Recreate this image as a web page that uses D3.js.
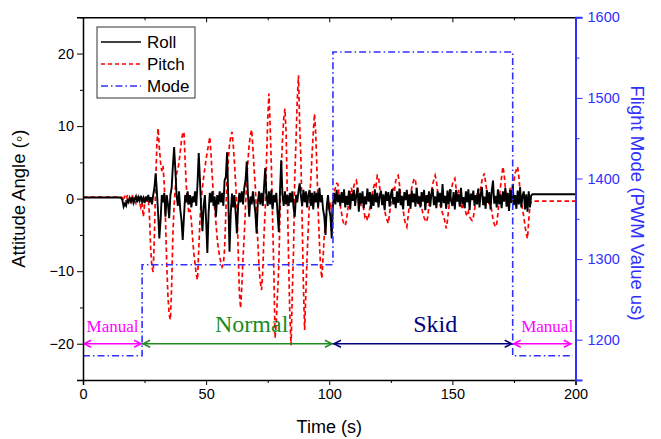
<!DOCTYPE html>
<html>
<head>
<meta charset="utf-8">
<script src="https://cdn.jsdelivr.net/npm/d3@7"></script>
<style>
  body { margin: 0; background: #fff; }
  svg { display: block; }
  .tick text { font-family: "Liberation Sans", Arial, sans-serif; font-size: 14.5px; }
</style>
</head>
<body>
<svg id="chart"></svg>
<script>
// sample spacing of the logged attitude (s), first logged sample at 15 s
const sampleStart = 15;
const sampleStep = 0.5;

const rollValues = [
  0.15, 0.1, -0.2, -1.1, -0.7, -1.0, -0.2, -0.5, 0.1, -0.4,
  0.2, -0.6, -0.1, 0.3, -0.5, 0.2, -0.3, 0.4, -0.4, 0.1,
  -0.6, 0.3, -0.3, 0.5, -0.5, 0.2, -0.8, 0.5, 1.5, 3.5,
  1.0, -2.0, -5.5, -3.0, 0.5, -0.5, 0.8, -2.5, 0.5, -0.8,
  -2.7, 0.5, 1.5, 4.5, 7.1, 4.0, 0.5, -1.0, 1.0, -1.5,
  -3.0, -5.7, -2.5, 0.5, -0.5, 1.0, -0.8, 0.5, -1.2, 0.3,
  -0.5, 1.0, -1.0, 2.0, 6.3, 2.5, -1.5, -4.5, -1.0, 0.5,
  -3.0, -7.5, -2.0, 0.8, -0.5, 1.0, -1.0, 0.3, -2.5, 0.5,
  -0.8, 1.0, -0.5, 0.8, -1.0, 2.5, 3.0, 6.4, 0.0, -7.3,
  -2.0, 0.7, -1.2, 0.5, -2.0, -4.8, -1.0, 0.8, -0.5, 1.0,
  -0.8, 1.5, 2.5, 5.1, 0.5, -2.5, 0.3, -0.8, 1.0, -0.5,
  -2.0, -4.8, -0.5, 1.0, -0.8, 0.8, -1.0, 1.5, 4.2, 0.5,
  -1.0, 1.0, -0.8, 1.2, -1.5, 0.5, -0.5, 0.8, -2.0, -4.6,
  1.0, 5.3, 0.5, -1.0, 1.0, -0.8, 0.5, -1.0, 0.8, -0.5,
  1.0, -1.2, -2.5, 0.5, -0.5, 1.0, 2.1, 0.3, -1.0, 1.2,
  -0.5, 1.0, -1.2, 0.5, 1.2, -1.0, 0.8, -1.5, 1.0, -0.5,
  0.8, -1.2, 1.5, -0.5, 0.5, -1.5, -2.5, -5.0, -1.0, 0.5,
  -1.5, -2.5, -5.5, -1.0, 0.8, -0.8, 1.2, -0.5, 0.6, -1.0,
  0.9, -0.6, 1.3, -1.2, 0.4, -0.9, 1.1, -1.5, 0.7, -0.3,
  1.2, -1.0, 0.5, 1.5, -1.8, 0.8, -0.7, 1.0, -1.3, 0.3,
  -0.8, 1.4, -0.4, 0.9, -1.4, 0.6, -1.0, 1.3, -0.5, 0.8,
  -1.2, 0.4, 1.1, -0.9, 0.6, -1.6, 1.0, -0.3, 0.9, -1.1,
  0.5, 1.3, -0.8, 0.2, -1.3, 1.0, -0.6, 1.4, -0.9, 0.4,
  -1.5, 0.9, -0.2, 1.2, -1.0, 0.6, -1.4, 1.1, -0.5, 0.7,
  -1.1, 1.5, -0.7, 0.3, -1.2, 0.9, -0.4, 1.2, -1.6, 0.5,
  -0.6, 1.0, -1.1, 0.7, 1.4, -0.9, 0.3, -1.3, 1.0, -0.5,
  0.8, -1.2, 2.0, -0.6, 0.4, -1.4, 1.1, -0.8, 1.3, -0.3,
  -1.0, 0.9, -1.5, 1.2, -0.4, 0.6, -1.1, 1.5, -0.7, 0.2,
  -1.3, 1.0, -0.5, 1.3, -1.6, 0.7, -0.2, 1.1, -1.0, 0.5,
  -0.8, 1.4, -1.2, 0.6, 1.6, -0.9, 0.3, -1.4, 1.2, -0.6,
  0.9, -1.5, 1.1, 2.5, -0.7, 0.4, -1.2, 1.3, -0.8, 0.6,
  -1.3, 1.0, -0.4, 1.5, -1.1, 0.8, -1.7, 1.2, -0.6, 2.0,
  -0.9, 0.5, -1.4, 1.1, -0.8, 1.6, -1.2, 0.4, 1.0, -1.5,
  0.6, -1.8, 1.0, -1.2, 0.4, 0.6, 0.6
];

const pitchValues = [
  0.2, 0.2, 0.1, -0.3, 0.4, -0.6, 0.5, -0.2, 0.3, -0.7,
  0.6, -0.4, 0.2, -0.8, 0.3, 0.5, -0.5, -1.2, -0.6, -2.5,
  -0.8, 0.4, -0.5, 0.3, -2.5, -7.0, -9.5, -10.1, -5.0, 2.0,
  7.5, 9.7, 7.0, 5.0, 3.8, 4.5, 2.0, -3.0, -9.0, -13.5,
  -16.0, -16.7, -12.0, -5.0, -1.0, 1.5, 3.5, 4.0, 5.0, 6.5,
  8.0, 9.0, 9.2, 5.0, 1.5, -0.5, -2.0, -1.5, -3.0, -5.5,
  -7.5, -9.0, -10.5, -11.2, -7.0, -3.0, 0.0, 1.5, 3.0, 4.2,
  5.5, 6.5, 7.5, 8.5, 6.0, 3.0, 0.5, -1.5, -3.4, -5.5,
  -7.0, -8.0, -8.8, -9.4, -9.0, -7.0, -2.0, 3.0, 5.3, 7.5,
  8.5, 9.2, 7.5, 5.0, 2.0, -1.0, -7.0, -13.0, -15.1, -12.0,
  -8.0, -5.0, -1.0, 2.5, 5.3, 7.5, 8.8, 9.5, 7.0, 4.0,
  1.5, -2.5, -6.0, -9.5, -11.5, -12.6, -10.0, -5.0, -1.6, 5.0,
  10.8, 14.5, 10.0, 4.5, -3.0, -10.0, -19.2, -17.0, -13.0, -9.5,
  -2.0, 4.0, 8.0, 11.0, 12.4, 9.0, 0.0, -8.5, -16.0, -20.2,
  -13.0, -7.0, 3.0, 8.0, 13.5, 17.0, 10.0, 5.3, -3.0, -12.0,
  -18.1, -13.0, -8.0, -4.0, 0.0, 2.5, 6.0, 9.0, 11.7, 9.0,
  4.0, -1.6, -6.0, -9.5, -11.0, -8.0, -5.0, -3.5, -1.5, -0.2,
  -1.5, -0.5, -2.5, 0.5, 1.0, 1.5, 2.1, 2.0, 0.5, -1.0,
  -2.0, -3.0, -3.5, -3.7, -3.0, -1.5, -0.5, 0.8, 1.5, 0.5,
  1.8, 2.2, 2.5, 1.5, 0.5, -0.5, -1.0, 0.3, -1.5, -2.5,
  -2.2, -3.0, -2.5, -1.2, 0.0, 0.8, 1.5, 2.2, 1.8, 3.2,
  3.0, 1.5, 0.3, -0.8, 0.5, -1.5, -2.5, -3.0, -3.4, -2.0,
  -0.8, 0.4, 1.5, 1.0, 2.5, 3.0, 3.2, 2.0, 0.5, -0.5,
  -1.5, -2.8, -3.5, -3.9, -2.5, -1.0, 0.5, 1.5, 2.2, 2.8,
  2.5, 1.2, 0.0, -0.8, 0.3, -1.2, -2.0, -2.6, -3.0, -3.2,
  -2.5, -1.0, 0.3, 1.0, 2.0, 2.6, 3.2, 2.5, 1.0, 0.0,
  -0.8, -1.5, -2.0, -2.5, -3.2, -4.1, -3.0, -1.5, 0.0, 1.0,
  2.0, 2.5, 2.8, 1.5, 0.5, 1.2, 0.0, -0.8, -1.5, -0.5,
  -1.2, -2.0, -2.4, -1.8, -2.5, -2.8, -3.0, -2.6, -1.5, -0.5,
  0.5, 1.0, 0.3, 1.5, 2.5, 3.0, 3.5, 2.2, 1.0, -0.2,
  -1.0, -0.5, -1.8, -2.8, -3.5, -3.9, -3.5, -2.0, 0.0, 1.5,
  3.0, 4.4, 3.5, 1.5, 0.0, -1.0, 0.5, 1.5, 0.2, 1.5,
  2.5, 3.5, 4.0, 4.4, 3.0, 1.0, -0.5, -1.5, -2.5, -3.8,
  -4.8, -5.5, -3.0, -1.0, -0.5, -0.35, -0.35
];

// level attitude before and after the logged part
const rollIdle = [0.15, 0.6];
const pitchIdle = [0.2, -0.35];

// flight mode PWM (steps)
const modeTimes = [0, 24, 101.5, 174.5, 199];
const modeValues = [1180, 1293, 1557, 1180, 1180];

// flight phases
const phaseNames = ["Manual", "Normal", "Skid", "Manual"];
const phaseStart = [0, 24, 101.5, 174.5];
const phaseEnd = [24, 101.5, 174.5, 198.5];
const phaseLabelAt = [12, 68.5, 143, 188.5];
const phaseColors = ["#ff00ff", "#228b22", "#000080", "#ff00ff"];
const phaseFont = [17, 24, 24, 17];

const xTicks = [0, 50, 100, 150, 200];
const xMinor = [25, 75, 125, 175];
const yTicks = [-20, -10, 0, 10, 20];
const yMinor = [-25, -15, -5, 5, 15, 25];
const y2Ticks = [1200, 1300, 1400, 1500, 1600];
const y2Minor = [1150, 1250, 1350, 1450, 1550];

const seriesNames = ["Roll", "Pitch", "Mode"];

const canvasWidth = 661;
const canvasHeight = 439;
const blue = "#3030ff";

const svg = d3.select("#chart")
  .attr("width", canvasWidth)
  .attr("height", canvasHeight);

const x = d3.scaleLinear().domain([0, 200]).range([83, 575.5]);
const y = d3.scaleLinear().domain([-25, 25]).range([380, 17.3]);
const y2 = d3.scaleLinear().domain([1150, 1600]).range([380, 17.3]);

function toPoints(values, idle) {
  let pts = values.map((v, i) => [sampleStart + i * sampleStep, v]);
  return [[0, idle[0]]].concat(pts, [[200, idle[1]]]);
}
const rollData = toPoints(rollValues, rollIdle);
const pitchData = toPoints(pitchValues, pitchIdle);
const modeData = modeTimes.map((t, i) => [t, modeValues[i]]);

svg.append("clipPath").attr("id", "plotclip")
  .append("rect")
  .attr("x", x(0)).attr("y", y(25))
  .attr("width", x(200) - x(0)).attr("height", y(-25) - y(25));

const plot = svg.append("g").attr("clip-path", "url(#plotclip)");

const angleLine = d3.line().x(d => x(d[0])).y(d => y(d[1]));
const modeLine = d3.line().x(d => x(d[0])).y(d => y2(d[1])).curve(d3.curveStepAfter);

plot.append("path")
  .datum(pitchData)
  .attr("fill", "none")
  .attr("stroke", "#ff0000")
  .attr("stroke-width", 1.7)
  .attr("stroke-dasharray", "4.5,3")
  .attr("d", angleLine);

plot.append("path")
  .datum(rollData)
  .attr("fill", "none")
  .attr("stroke", "#000")
  .attr("stroke-width", 1.9)
  .attr("d", angleLine);

plot.append("path")
  .datum(modeData)
  .attr("fill", "none")
  .attr("stroke", blue)
  .attr("stroke-width", 1.6)
  .attr("stroke-dasharray", "7,3,1.5,3")
  .attr("d", modeLine);

// phase arrows and labels
const arrowY = y(-20);
phaseNames.forEach((name, i) => {
  let x1 = x(phaseStart[i]);
  let x2 = x(phaseEnd[i]);
  let g = svg.append("g")
    .attr("stroke", phaseColors[i])
    .attr("stroke-width", 1.5)
    .attr("fill", "none");
  g.append("line").attr("x1", x1).attr("x2", x2).attr("y1", arrowY).attr("y2", arrowY);
  g.append("path").attr("d", `M${x1 + 8},${arrowY - 3.5}L${x1 + 1},${arrowY}L${x1 + 8},${arrowY + 3.5}`);
  g.append("path").attr("d", `M${x2 - 8},${arrowY - 3.5}L${x2 - 1},${arrowY}L${x2 - 8},${arrowY + 3.5}`);
  svg.append("text")
    .attr("x", x(phaseLabelAt[i]))
    .attr("y", 332)
    .attr("text-anchor", "middle")
    .attr("fill", phaseColors[i])
    .style("font-family", "'Liberation Serif', 'Times New Roman', serif")
    .style("font-size", phaseFont[i] + "px")
    .text(name);
});

// axes
svg.append("g")
  .attr("transform", `translate(0,${y(-25)})`)
  .call(d3.axisBottom(x).tickValues(xTicks).tickSize(5).tickPadding(4))
  .call(g => g.select(".domain").attr("stroke-width", 1.5));
svg.append("g")
  .attr("transform", `translate(0,${y(-25)})`)
  .call(d3.axisBottom(x).tickValues(xMinor).tickSize(3).tickFormat(""))
  .call(g => g.select(".domain").remove());
svg.append("g")
  .attr("transform", `translate(0,${y(25)})`)
  .call(d3.axisTop(x).tickValues(xTicks.concat(xMinor)).tickSizeInner(-5).tickSizeOuter(0).tickFormat(""))
  .call(g => g.select(".domain").attr("stroke-width", 1.5))
  .call(g => g.selectAll(".tick line").filter(d => d % 50 !== 0).attr("y2", 3));

svg.append("g")
  .attr("transform", `translate(${x(0)},0)`)
  .call(d3.axisLeft(y).tickValues(yTicks).tickSize(6).tickPadding(3))
  .call(g => g.select(".domain").attr("stroke-width", 1.5));
svg.append("g")
  .attr("transform", `translate(${x(0)},0)`)
  .call(d3.axisLeft(y).tickValues(yMinor).tickSize(3).tickFormat(""))
  .call(g => g.select(".domain").remove());

const rightAxis = svg.append("g")
  .attr("transform", `translate(${x(200)},0)`)
  .call(d3.axisRight(y2).tickValues(y2Ticks).tickSize(7).tickPadding(5).tickFormat(d3.format("d")));
svg.append("g")
  .attr("transform", `translate(${x(200)},0)`)
  .call(d3.axisRight(y2).tickValues(y2Minor).tickSize(4).tickFormat(""))
  .call(g => g.select(".domain").remove())
  .call(g => g.selectAll("line").attr("stroke", blue));
rightAxis.select(".domain").attr("stroke", blue).attr("stroke-width", 2);
rightAxis.selectAll(".tick line").attr("stroke", blue);
rightAxis.selectAll(".tick text").attr("fill", blue);

// axis titles
svg.append("text")
  .attr("x", (x(0) + x(200)) / 2)
  .attr("y", 433)
  .attr("text-anchor", "middle")
  .style("font-family", "'Liberation Sans', Arial, sans-serif")
  .style("font-size", "18px")
  .text("Time (s)");
svg.append("text")
  .attr("transform", `translate(25,${y(0)}) rotate(-90)`)
  .attr("text-anchor", "middle")
  .style("font-family", "'Liberation Sans', Arial, sans-serif")
  .style("font-size", "18.5px")
  .text("Attitude Angle (\u25E6)");
svg.append("text")
  .attr("transform", `translate(631,${y(-0.6)}) rotate(90)`)
  .attr("text-anchor", "middle")
  .attr("fill", blue)
  .style("font-family", "'Liberation Sans', Arial, sans-serif")
  .style("font-size", "18.5px")
  .text("Flight Mode (PWM Value us)");

// legend
const legend = svg.append("g").attr("transform", "translate(97,27)");
legend.append("rect")
  .attr("width", 98).attr("height", 71)
  .attr("fill", "#fff").attr("stroke", "#333").attr("stroke-width", 1);
const legendStroke = ["#000", "#ff0000", blue];
const legendDash = [null, "4,3", "7,3,1.5,3"];
legend.selectAll(".legline")
  .data(seriesNames).enter()
  .append("line")
  .attr("class", "legline")
  .attr("x1", 4).attr("x2", 44)
  .attr("y1", (d, i) => 15 + i * 22).attr("y2", (d, i) => 15 + i * 22)
  .attr("stroke", (d, i) => legendStroke[i])
  .attr("stroke-width", 1.6)
  .attr("stroke-dasharray", (d, i) => legendDash[i]);
legend.selectAll(".legtext")
  .data(seriesNames).enter()
  .append("text")
  .attr("class", "legtext")
  .attr("x", 50)
  .attr("y", (d, i) => 15 + i * 22)
  .attr("dy", "0.36em")
  .style("font-family", "'Liberation Sans', Arial, sans-serif")
  .style("font-size", "17px")
  .text(d => d);
</script>
</body>
</html>
